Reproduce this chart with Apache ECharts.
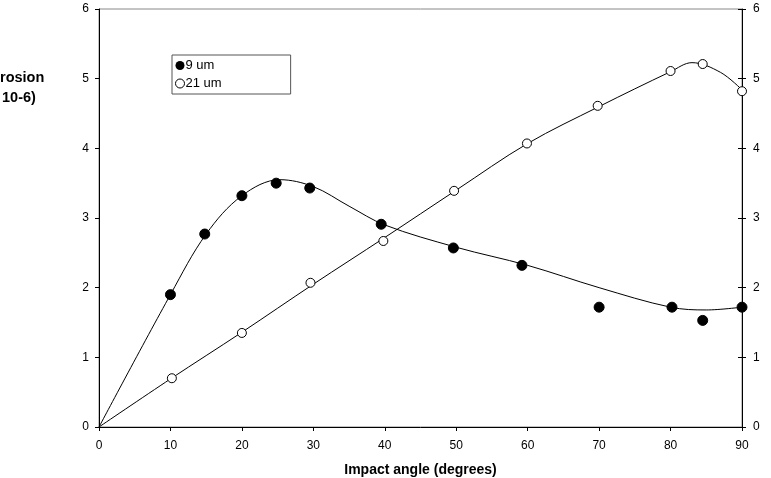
<!DOCTYPE html>
<html>
<head>
<meta charset="utf-8">
<script src="https://cdn.jsdelivr.net/npm/echarts@6/dist/echarts.min.js"></script>
<style>
  html, body { margin: 0; padding: 0; background: #fff; }
  #chart { width: 771px; height: 478px; }
</style>
</head>
<body>
<div id="chart"></div>
<script>
// measured points, 9 um particles (filled)
var angles9 = [10, 14.8, 20, 24.8, 29.5, 39.5, 49.6, 59.2, 70, 80.2, 84.5, 90];
var erosion9 = [1.9, 2.77, 3.32, 3.5, 3.43, 2.91, 2.57, 2.32, 1.72, 1.72, 1.53, 1.72];

// measured points, 21 um particles (open)
var angles21 = [10.2, 20, 29.6, 39.8, 49.7, 59.9, 69.8, 80, 84.5, 90];
var erosion21 = [0.7, 1.35, 2.07, 2.67, 3.39, 4.07, 4.61, 5.11, 5.21, 4.82];

// fitted curves
var curveX9 = [0, 10, 15, 20, 25.3, 30, 35, 40, 50, 60, 70, 80, 85, 90];
var curveY9 = [0, 1.9, 2.77, 3.32, 3.55, 3.45, 3.17, 2.9, 2.58, 2.32, 2.0, 1.72, 1.68, 1.72];
var curveX21 = [0, 10, 20, 30, 40, 50, 60, 70, 80, 83, 87, 90];
var curveY21 = [0, 0.69, 1.36, 2.05, 2.72, 3.4, 4.07, 4.6, 5.1, 5.23, 5.09, 4.84];

function pairs(xs, ys) {
	return xs.map(function (x, i) { return [x, ys[i]]; });
}

var font = 'Liberation Sans, Arial, sans-serif';
var chart = echarts.init(document.getElementById('chart'));

var tickLabel = { fontFamily: font, fontSize: 12, color: '#000' };

var option = {
	backgroundColor: '#fff',
	animation: false,
	grid: {
		left: 99, right: 29, top: 9, bottom: 51,
		outerBoundsMode: 'none', containLabel: false,
		show: true, borderColor: '#888', borderWidth: 1
	},
	legend: {
		orient: 'vertical',
		left: 172, top: 55,
		padding: [4, 69, 4, 3],
		itemGap: 5,
		itemWidth: 9, itemHeight: 9,
		borderColor: '#555', borderWidth: 1,
		textStyle: { fontFamily: font, fontSize: 13, color: '#000', padding: [0, 0, 0, -4] },
		data: [
			{ name: '9 um', icon: 'circle', itemStyle: { color: '#000', borderColor: '#000' } },
			{ name: '21 um', icon: 'circle', itemStyle: { color: '#fff', borderColor: '#000', borderWidth: 1 } }
		]
	},
	xAxis: {
		type: 'value', min: 0, max: 90, interval: 10,
		name: 'Impact angle (degrees)', nameLocation: 'middle', nameGap: 36,
		nameTextStyle: { fontFamily: font, fontSize: 14, fontWeight: 'bold', color: '#000' },
		axisLine: { lineStyle: { color: '#000', width: 1 } },
		axisTick: { show: true, length: 4, lineStyle: { color: '#000' } },
		axisLabel: Object.assign({ margin: 13 }, tickLabel),
		splitLine: { show: false }
	},
	yAxis: [
		{
			type: 'value', min: 0, max: 6, interval: 1, position: 'left',
			axisLine: { show: true, lineStyle: { color: '#000' } },
			axisTick: { show: true, length: 4, lineStyle: { color: '#000' } },
			axisLabel: Object.assign({ margin: 10 }, tickLabel),
			splitLine: { show: false }
		},
		{
			type: 'value', min: 0, max: 6, interval: 1, position: 'right',
			axisLine: { show: true, lineStyle: { color: '#000' } },
			axisTick: { show: true, length: 4, lineStyle: { color: '#000' } },
			axisLabel: Object.assign({ margin: 11 }, tickLabel),
			splitLine: { show: false }
		},
		{
			type: 'value', min: 0, max: 6, interval: 1, position: 'right',
			axisLine: { show: false },
			axisTick: { show: true, inside: true, length: 4, lineStyle: { color: '#000' } },
			axisLabel: { show: false },
			splitLine: { show: false }
		}
	],
	graphic: [
		{ type: 'text', left: 0, top: 70, style: { text: 'rosion', font: 'bold 14.5px ' + font, fill: '#000' } },
		{ type: 'text', left: 2, top: 90, style: { text: '10-6)', font: 'bold 14.5px ' + font, fill: '#000' } }
	],
	series: [
		{
			name: 'fit 9', type: 'line', smooth: 0.35, symbol: 'none', silent: true,
			lineStyle: { color: '#000', width: 1 },
			data: pairs(curveX9, curveY9)
		},
		{
			name: 'fit 21', type: 'line', smooth: 0.35, symbol: 'none', silent: true,
			lineStyle: { color: '#000', width: 1 },
			data: pairs(curveX21, curveY21)
		},
		{
			name: '9 um', type: 'scatter', symbol: 'circle', symbolSize: 10,
			itemStyle: { color: '#000', borderColor: '#000', opacity: 1 },
			data: pairs(angles9, erosion9), z: 5
		},
		{
			name: '21 um', type: 'scatter', symbol: 'circle', symbolSize: 9,
			itemStyle: { color: '#fff', borderColor: '#000', borderWidth: 1, opacity: 1 },
			data: pairs(angles21, erosion21), z: 5
		}
	]
};

chart.setOption(option);
</script>
</body>
</html>
